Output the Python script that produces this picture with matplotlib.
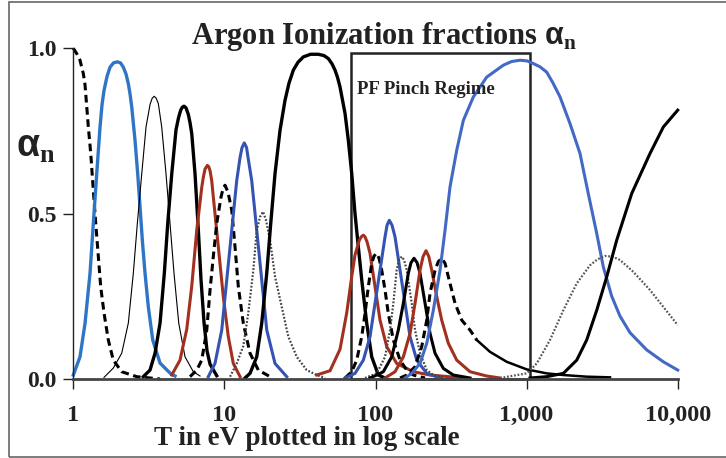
import matplotlib.pyplot as plt
from matplotlib.patches import Rectangle
from matplotlib.ticker import NullLocator

plt.rcParams['font.family'] = 'Liberation Serif'
plt.rcParams['font.weight'] = 'bold'
plt.rcParams['mathtext.fontset'] = 'custom'
plt.rcParams['mathtext.it'] = 'Liberation Sans'
plt.rcParams['mathtext.rm'] = 'Liberation Serif:bold'

# ionization fractions: T (eV) and alpha for each charge state
t_ar0 = [1.0, 1.053, 1.107, 1.165, 1.195, 1.257, 1.304, 1.356, 1.407, 1.464, 1.518, 1.597, 1.704, 1.839,
         2.091, 2.628, 3.75]
a_ar0 = [1.0, 0.984, 0.964, 0.923, 0.89, 0.762, 0.682, 0.571, 0.471, 0.37, 0.279, 0.199, 0.118, 0.057,
         0.022, 0.007, 0.0]

t_ar1 = [1.0, 1.107, 1.195, 1.29, 1.356, 1.428, 1.502, 1.549, 1.597, 1.671, 1.75, 1.845, 1.955, 2.053,
         2.142, 2.233, 2.312, 2.373, 2.435, 2.56, 2.668, 2.764, 2.862, 2.982, 3.136, 3.354, 3.75, 4.365, 4.71]
a_ar1 = [0.012, 0.067, 0.168, 0.32, 0.47, 0.62, 0.762, 0.83, 0.873, 0.915, 0.943, 0.956, 0.959, 0.956,
         0.943, 0.922, 0.893, 0.862, 0.823, 0.722, 0.62, 0.52, 0.42, 0.32, 0.218, 0.118, 0.048, 0.018, 0.009]

t_ar2 = [1.597, 1.839, 2.091, 2.312, 2.495, 2.652, 2.836, 3.028, 3.218, 3.319, 3.42, 3.526, 3.652, 3.846,
         4.107, 4.365, 4.638, 4.985, 5.486, 6.226, 6.896]
a_ar2 = [0.005, 0.033, 0.078, 0.169, 0.32, 0.47, 0.62, 0.762, 0.83, 0.848, 0.855, 0.85, 0.833, 0.762,
         0.62, 0.47, 0.32, 0.169, 0.067, 0.022, 0.009]

t_ar3 = [2.905, 3.218, 3.473, 3.749, 4.002, 4.215, 4.48, 4.783, 4.969, 5.137, 5.266, 5.403, 5.57, 5.769,
         5.92, 6.075, 6.39, 6.72, 7.0, 7.33, 7.67, 8.03, 8.89]
a_ar3 = [0.007, 0.027, 0.078, 0.169, 0.32, 0.47, 0.62, 0.754, 0.79, 0.813, 0.822, 0.825, 0.82, 0.80,
         0.775, 0.743, 0.62, 0.45, 0.30, 0.17, 0.085, 0.045, 0.01]

t_ar4 = [4.48, 5.08, 5.63, 6.075, 6.56, 7.08, 7.25, 7.44, 7.71, 7.87, 8.03, 8.24, 8.44, 9.11, 9.83, 10.61,
         11.45, 12.69]
a_ar4 = [0.012, 0.057, 0.15, 0.28, 0.45, 0.58, 0.61, 0.635, 0.646, 0.642, 0.63, 0.6, 0.551, 0.40, 0.249,
         0.128, 0.047, 0.007]

t_ar5 = [5.92, 6.56, 7.08, 7.64, 8.03, 8.44, 8.89, 9.49, 9.79, 10.09, 10.56, 11.18, 11.75, 12.36, 13.34,
         14.77, 16.76, 20.04]
a_ar5 = [0.007, 0.027, 0.057, 0.148, 0.269, 0.37, 0.47, 0.55, 0.575, 0.586, 0.565, 0.511, 0.40, 0.279,
         0.168, 0.078, 0.027, 0.007]

t_ar6 = [7.82, 8.66, 9.60, 10.36, 11.18, 12.06, 12.69, 13.08, 13.54, 14.01, 14.33, 15.16, 16.36, 17.65,
         19.06, 21.62, 25.84]
a_ar6 = [0.007, 0.047, 0.148, 0.30, 0.45, 0.60, 0.67, 0.70, 0.714, 0.70, 0.67, 0.60, 0.45, 0.30, 0.148,
         0.047, 0.007]

t_ar7 = [10.89, 12.06, 13.34, 14.39, 15.54, 16.36, 17.2, 18.01, 18.85, 20.04, 21.62, 23.95, 26.48, 30.1,
         35.05, 40.82, 46.33]
a_ar7 = [0.007, 0.047, 0.10, 0.20, 0.33, 0.45, 0.49, 0.506, 0.48, 0.42, 0.31, 0.218, 0.128, 0.067, 0.027,
         0.012, 0.003]

t_ar8 = [13.68, 14.77, 16.36, 17.65, 19.06, 20.25, 21.62, 23.33, 25.18, 26.76, 28.58, 30.7, 33.28, 37.14,
         41.82, 45.62, 48.71, 51.54, 53.95, 56.05, 58.22, 62.84, 66.07, 69.6, 73.15, 76.93, 81.04, 87.47,
         94.38, 104.4, 115.6]
a_ar8 = [0.003, 0.017, 0.067, 0.168, 0.32, 0.47, 0.621, 0.752, 0.843, 0.895, 0.934, 0.958, 0.974, 0.982,
         0.982, 0.978, 0.969, 0.953, 0.934, 0.912, 0.883, 0.803, 0.722, 0.621, 0.50, 0.40, 0.30, 0.168,
         0.067, 0.012, 0.003]

t_ar9 = [40.82, 50.0, 58.22, 64.48, 69.6, 73.15, 78.13, 80.54, 83.07, 85.22, 87.86, 91.96, 99.24, 107.1,
         118.6, 138.1, 177.9, 229.5, 362.4]
a_ar9 = [0.012, 0.025, 0.09, 0.2, 0.31, 0.375, 0.42, 0.43, 0.435, 0.43, 0.415, 0.38, 0.279, 0.178, 0.098,
         0.047, 0.022, 0.012, 0.004]

t_ar10 = [62.84, 69.6, 75.08, 81.04, 85.22, 89.6, 94.38, 97.74, 101.8, 105.5, 109.9, 115.6, 121.5, 131.2,
          145.3, 160.9, 177.9, 212.7]
a_ar10 = [0.003, 0.022, 0.057, 0.128, 0.198, 0.279, 0.35, 0.372, 0.38, 0.365, 0.329, 0.269, 0.198, 0.118,
          0.057, 0.027, 0.012, 0.003]

t_ar11 = [62.84, 73.15, 83.07, 91.96, 99.24, 107.1, 115.6, 119.2, 123.4, 128.6, 134.6, 145.3, 156.8, 169.2,
          187.4, 218.3, 267.3]
a_ar11 = [0.003, 0.017, 0.057, 0.128, 0.229, 0.329, 0.43, 0.465, 0.48, 0.465, 0.43, 0.329, 0.229, 0.128,
          0.057, 0.017, 0.003]

t_ar12 = [85.22, 101.8, 115.6, 124.7, 131.2, 138.1, 143.0, 149.1, 154.4, 160.9, 173.6, 182.6, 197.0, 218.3,
          241.3, 288.4]
a_ar12 = [0.003, 0.017, 0.067, 0.148, 0.229, 0.33, 0.36, 0.37, 0.36, 0.33, 0.229, 0.148, 0.078, 0.027,
          0.012, 0.003]

t_ar13 = [91.96, 101.8, 112.6, 128.0, 141.5, 152.8, 164.9, 171.8, 179.8, 188.3, 197.0, 212.7, 229.5, 247.6,
          281.0, 327.3, 422.1]
a_ar13 = [0.003, 0.012, 0.022, 0.067, 0.148, 0.229, 0.32, 0.352, 0.365, 0.352, 0.32, 0.229, 0.138, 0.078,
          0.032, 0.012, 0.003]

t_ar14 = [115.6, 134.6, 152.8, 169.2, 182.6, 197.0, 206.3, 215.9, 225.3, 235.5, 254.1, 274.2, 303.3, 344.7,
          422.1, 544.3, 666.8]
a_ar14 = [0.003, 0.022, 0.067, 0.138, 0.229, 0.329, 0.37, 0.388, 0.37, 0.329, 0.249, 0.178, 0.108, 0.057,
          0.022, 0.009, 0.003]

t_ar15 = [145.3, 160.9, 182.6, 202.2, 218.3, 229.5, 247.6, 260.3, 274.2, 288.4, 303.3, 335.9, 372.0, 422.1,
          467.6]
a_ar15 = [0.003, 0.012, 0.037, 0.098, 0.178, 0.259, 0.329, 0.355, 0.365, 0.35, 0.309, 0.229, 0.178, 0.148,
          0.118]
t_ar15_tail = [467.6, 572.7, 738.5, 1002, 1358, 1750, 2498, 3565]
a_ar15_tail = [0.118, 0.082, 0.052, 0.029, 0.017, 0.012, 0.007, 0.005]

t_ar16 = [156.8, 173.6, 197.0, 218.3, 241.3, 267.3, 288.4, 311.2, 344.7, 381.2, 444.0, 544.3, 701.3, 794.5,
          904.4, 1006, 1107, 1227, 1358, 1495, 1664, 1938, 2256, 2561, 2911, 3218, 3658, 4151, 4834, 6233,
          8030, 10000]
a_ar16 = [0.003, 0.017, 0.047, 0.108, 0.208, 0.329, 0.45, 0.581, 0.692, 0.782, 0.853, 0.913, 0.949, 0.96,
          0.964, 0.962, 0.954, 0.944, 0.928, 0.895, 0.853, 0.772, 0.682, 0.56, 0.44, 0.339, 0.25, 0.19,
          0.14, 0.088, 0.052, 0.027]

t_ar17 = [666.8, 1002, 1167, 1428, 1750, 2146, 2628, 2946, 3303, 3703, 4151, 5083, 6556, 8030, 10000]
a_ar17 = [0.003, 0.017, 0.047, 0.118, 0.208, 0.289, 0.344, 0.362, 0.372, 0.37, 0.36, 0.324, 0.269, 0.218,
          0.163]

t_ar18 = [1053, 1358, 1750, 2146, 2498, 2911, 3389, 3948, 4961, 6556, 8030, 10000]
a_ar18 = [0.003, 0.007, 0.017, 0.057, 0.118, 0.208, 0.309, 0.42, 0.561, 0.682, 0.762, 0.813]

pinch_lo, pinch_hi, pinch_top = 68.8, 1053, 0.987

dash = (0, (2.5, 1.5))
dots = (0, (0.8, 0.8))
red = '#A3301F'
curves = [
    (t_ar0, a_ar0, 'black', 2.2, dash),
    (t_ar1, a_ar1, '#2E75C6', 2.4, '-'),
    (t_ar2, a_ar2, 'black', 0.8, '-'),
    (t_ar3, a_ar3, 'black', 2.4, '-'),
    (t_ar4, a_ar4, red, 2.2, '-'),
    (t_ar5, a_ar5, 'black', 2.2, dash),
    (t_ar6, a_ar6, '#3453B2', 2.2, '-'),
    (t_ar7, a_ar7, '#444444', 1.6, dots),
    (t_ar8, a_ar8, 'black', 2.4, '-'),
    (t_ar9, a_ar9, red, 2.2, '-'),
    (t_ar10, a_ar10, 'black', 2.2, dash),
    (t_ar11, a_ar11, '#3453B2', 2.2, '-'),
    (t_ar12, a_ar12, '#444444', 1.6, dots),
    (t_ar13, a_ar13, 'black', 2.2, '-'),
    (t_ar14, a_ar14, red, 2.2, '-'),
    (t_ar15, a_ar15, 'black', 2.2, dash),
    (t_ar15_tail, a_ar15_tail, 'black', 1.8, '-'),
    (t_ar16, a_ar16, '#4469C4', 2.2, '-'),
    (t_ar17, a_ar17, '#555555', 1.6, dots),
    (t_ar18, a_ar18, 'black', 2.2, '-'),
]

fig = plt.figure(figsize=(7.26, 4.58), dpi=100)
ax = fig.add_axes([0.101, 0.1725, 0.8325, 0.722])

for t, a, c, lw, ls in curves:
    ax.plot(t, a, color=c, lw=lw, linestyle=ls, clip_on=False, solid_joinstyle='round')

ax.add_patch(Rectangle((pinch_lo, 0), pinch_hi - pinch_lo, pinch_top, fill=False,
                       ec='#222222', lw=1.8, clip_on=False))
ax.text(75.4, 0.876, 'PF Pinch Regime', fontsize=13.5, fontweight='bold', va='center', ha='left',
        color='#222222')

ax.set_xscale('log')
ax.set_xlim(1, 10000)
ax.set_ylim(0, 1.0)
ax.set_xticks([1, 10, 100, 1000, 10000])
ax.set_xticklabels(['1', '10', '100', '1,000', '10,000'])
ax.xaxis.set_minor_locator(NullLocator())
ax.set_yticks([0.0, 0.5, 1.0])
ax.set_yticklabels(['0.0', '0.5', '1.0'])
ax.tick_params(axis='y', direction='out', length=7, width=1, pad=5, labelsize=17, colors='#222222')
ax.tick_params(axis='x', direction='out', length=7, width=1, pad=12, labelsize=17.5, colors='#222222')
for s in ['top', 'right']:
    ax.spines[s].set_visible(False)
ax.spines['bottom'].set_linewidth(2.0)
ax.spines['bottom'].set_color('#444444')
ax.spines['left'].set_linewidth(1.0)
ax.spines['left'].set_color('#222222')

fig.text(384 / 726, 1 - 44 / 458, r'Argon Ionization fractions $\alpha_\mathrm{n}$', fontsize=22,
         fontweight='bold', ha='center', va='baseline', color='#222222')
fig.text(16 / 726, 1 - 157 / 458, r'$\alpha_\mathrm{n}$', fontsize=27, ha='left', va='baseline',
         color='#222222')
fig.text(307 / 726, 1 - 445 / 458, 'T in eV plotted in log scale', fontsize=19.5, fontweight='bold',
         ha='center', va='baseline', color='#222222')

fig.add_artist(Rectangle((9 / 726, 1 - 456.5 / 458), 1.0, 454.5 / 458, transform=fig.transFigure,
                         fill=False, ec='#666666', lw=1.2))

fig.savefig('out.png', dpi=100)
